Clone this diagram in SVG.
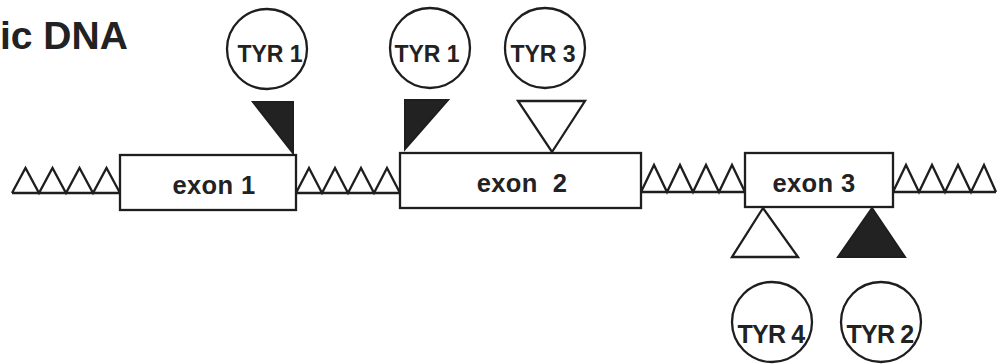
<svg xmlns="http://www.w3.org/2000/svg" width="998" height="364" viewBox="0 0 998 364">
<style>
.ln{fill:none;stroke:#1e1e1e;stroke-width:2.3;stroke-linejoin:miter}
.box{fill:#fff;stroke:#1e1e1e;stroke-width:2.3}
.circ{fill:#fff;stroke:#1e1e1e;stroke-width:2.3}
.blk{fill:#222;stroke:#1e1e1e;stroke-width:2}
.opn{fill:#fff;stroke:#1e1e1e;stroke-width:2.3}
.t{font-family:"Liberation Sans",Arial,sans-serif;font-weight:bold;fill:#222;text-anchor:middle}
.tyr{font-size:23px}
.tyrb{font-size:25px;letter-spacing:-0.8px}
.ex{font-size:25.5px;letter-spacing:0.4px}
</style>
<text x="0" y="49" font-family="Liberation Sans, Arial, sans-serif" font-weight="bold" font-size="39" fill="#222">ic DNA</text>
<g id="introns">
<path class="ln" d="M12,193 H120 M12,193 L25.5,168 L39,193 L52.5,168 L66,193 L79.5,168 L93,193 L106.5,168 L120,193"/>
<path class="ln" d="M296,193 H400 M296,193 L309,168 L322,193 L335,168 L348,193 L361,168 L374,193 L387,168 L400,193"/>
<path class="ln" d="M641,192 H745 M641,192 L654,165 L667,192 L680,165 L693,192 L706,165 L719,192 L732,165 L745,192"/>
<path class="ln" d="M893,192 H996 M893,192 L906,165 L919,192 L932,165 L945,192 L958,165 L971,192 L984,165 L996,192"/>
</g>
<g id="exon1"><rect class="box" x="120" y="155" width="176" height="55"/><text class="t ex" x="214" y="194">exon 1</text></g>
<g id="exon2"><rect class="box" x="400" y="153" width="241" height="55"/><text class="t ex" x="522" y="192" xml:space="preserve">exon  2</text></g>
<g id="exon3"><rect class="box" x="745" y="153" width="148" height="54"/><text class="t ex" x="814" y="192">exon 3</text></g>
<g id="tyr1a"><circle class="circ" cx="267" cy="49" r="40"/><text class="t tyr" x="270" y="62">TYR 1</text><polygon class="blk" points="253,102 293,102 293,153"/></g>
<g id="tyr1b"><circle class="circ" cx="430" cy="48" r="40"/><text class="t tyr" x="427" y="62">TYR 1</text><polygon class="blk" points="405,100 448,100 405,149"/></g>
<g id="tyr3"><circle class="circ" cx="545" cy="48" r="40"/><text class="t tyr" x="543" y="62">TYR 3</text><polygon class="opn" points="518,101 585,101 552,152"/></g>
<g id="tyr4"><circle class="circ" cx="772" cy="322" r="40"/><text class="t tyrb" x="771" y="343">TYR 4</text><polygon class="opn" points="763,208 732,257 798,257"/></g>
<g id="tyr2"><circle class="circ" cx="881" cy="322" r="40"/><text class="t tyrb" x="880" y="343">TYR 2</text><polygon class="blk" points="872,208 838,257 905,257"/></g>
</svg>
